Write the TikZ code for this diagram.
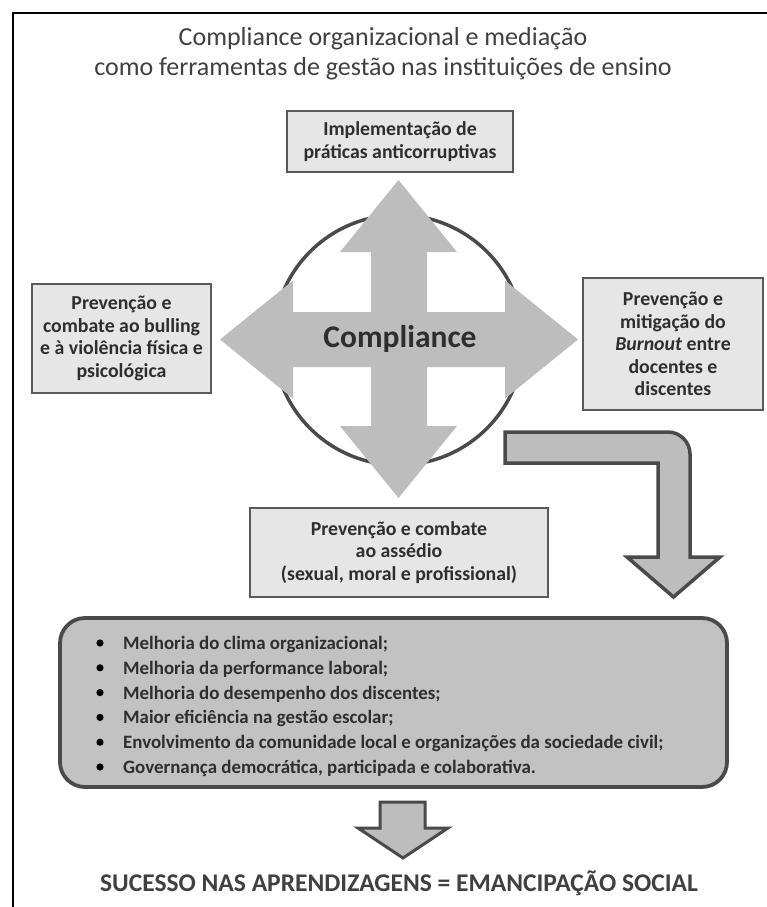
\documentclass[tikz,border=0pt]{standalone}
\usepackage{fontspec}
\setmainfont{Carlito}
\usepackage{tikz}
\definecolor{txtgray}{HTML}{2E2E2E}
\definecolor{titlegray}{HTML}{404040}
\definecolor{boxfill}{HTML}{E6E6E6}
\definecolor{boxline}{HTML}{5A5A5A}
\definecolor{arrowfill}{HTML}{BDBDBD}
\definecolor{listfill}{HTML}{C2C2C2}
\definecolor{darkline}{HTML}{4A4A4A}

\begin{document}
\begin{tikzpicture}[x=1pt,y=-1pt,
    infobox/.style={draw=boxline, fill=boxfill, line width=1.8pt, align=center, text=txtgray,
        font=\fontsize{19.8}{22.6}\selectfont\bfseries, inner sep=0pt},
    itemtext/.style={anchor=base west, text=txtgray, font=\fontsize{18.9}{22}\selectfont\bfseries, inner sep=0pt}]
                \useasboundingbox (0,0) rectangle (767,907);
                \fill[white] (0,0) rectangle (767,907);
                \draw[black, line width=2.6pt](13,930) -- (13,13) -- (790,13);
                \node[align=center, text=titlegray, font=\fontsize{26}{30}\selectfont] (title) at (383,54) {Compliance organizacional e mediação\\como ferramentas de gestão nas instituições de ensino};
                \draw[darkline, line width=3.5pt](398.5,340) circle[radius=125pt];
                \fill[arrowfill](578,339.5) -- (505,280.5) -- (505,312) -- (427,312) -- (427,252) -- (457,252) -- (398.5,180) -- (340,252) -- (371,252) -- (371,312) -- (293,312) -- (293,280.5) -- (220,339.5) -- (293,398.5) -- (293,367) -- (371,367) -- (371,426) -- (340,426) -- (398.5,498) -- (457,426) -- (427,426) -- (427,367) -- (505,367) -- (505,398.5) -- cycle;
                \node[text=txtgray, font=\fontsize{31.5}{36}\selectfont\bfseries] (compliance) at (400,339) {Compliance};
                \node[infobox, minimum width=226pt, minimum height=61pt] (top) at (400,141.5) {Implementação de\\práticas anticorruptivas};
                \node[infobox, minimum width=179pt, minimum height=109pt] (left) at (121.5,338.5) {Prevenção e\\combate ao bulling\\e à violência física e\\psicológica};
                \node[infobox, minimum width=180pt, minimum height=132pt] (right) at (673,344) {Prevenção e\\mitigação do\\\textit{Burnout} entre\\docentes e\\discentes};
                \node[infobox, minimum width=298pt, minimum height=89pt] (bottom) at (399,552.5) {Prevenção e combate\\ao assédio\\(sexual, moral e profissional)};
                \draw[darkline, fill=arrowfill, line width=3.5pt, line join=miter](505,432) -- (668,432) .. controls (680,432) and (690,442) .. (690,454) -- (690,557) -- (720,557) -- (673.5,597) -- (627,557) -- (658,557) -- (658,463) -- (505,463) -- cycle;
                \draw[darkline, fill=listfill, line width=3.8pt, rounded corners=25pt](60,618) rectangle (727,787);
                \foreach \txt [count=\k] in {Melhoria do clima organizacional;, Melhoria da performance laboral;, Melhoria do desempenho dos discentes;, Maior eficiência na gestão escolar;, Envolvimento da comunidade local e organizações da sociedade civil;, {Governança democrática, participada e colaborativa.}}{
                    \fill[black](100,618.2+24.8*\k) circle[radius=3.6pt];
                    \node[itemtext] (item\k) at (123,624.7+24.8*\k) {\txt};
                }
                \draw[darkline, fill=arrowfill, line width=3pt, line join=miter](380,802) -- (425,802) -- (425,828) -- (448,828) -- (403,858) -- (358,828) -- (380,828) -- cycle;
                \node[text=titlegray, font=\fontsize{25.5}{30}\selectfont\bfseries] (result) at (399,883) {SUCESSO NAS APRENDIZAGENS = EMANCIPAÇÃO SOCIAL};
            \end{tikzpicture}
\end{document}
